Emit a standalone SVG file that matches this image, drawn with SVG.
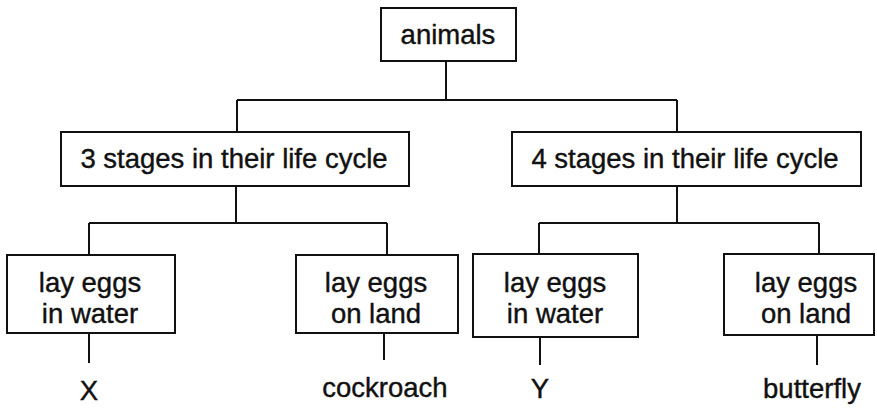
<svg xmlns="http://www.w3.org/2000/svg" width="877" height="409" viewBox="0 0 877 409">
<style>
.box{fill:#fff;stroke:#111;stroke-width:2}
.ln{fill:none;stroke:#111;stroke-width:2}
text{font-family:"Liberation Sans",Arial,sans-serif;font-size:27.5px;fill:#111;stroke:#111;stroke-width:0.4;text-anchor:middle}
</style>
<rect width="877" height="409" fill="#fff"/>
<g id="connectors" class="ln">
<path d="M446 61V100M237 100H677M237 100V132M677 100V132"/>
<path d="M236 186V223M89 223H387M89 223V255M387 223V255"/>
<path d="M677 186V223M539 223H819M539 223V254M819 223V254"/>
<path d="M89 333V363M384 333V360M540 337V365M817 335V365"/>
</g>
<g id="animals"><rect class="box" x="381" y="8" width="135" height="53"/><text x="448" y="44">animals</text></g>
<g id="stages3"><rect class="box" x="61" y="132" width="348" height="54"/><text x="234" y="168">3 stages in their life cycle</text></g>
<g id="stages4"><rect class="box" x="512" y="132" width="349" height="54"/><text x="685" y="168">4 stages in their life cycle</text></g>
<g id="water1"><rect class="box" x="7" y="255" width="168" height="78"/><text x="90" y="292">lay eggs</text><text x="90" y="323">in water</text></g>
<g id="land1"><rect class="box" x="296" y="255" width="162" height="78"/><text x="376" y="292">lay eggs</text><text x="376" y="323">on land</text></g>
<g id="water2"><rect class="box" x="473" y="254" width="165" height="83"/><text x="555" y="292">lay eggs</text><text x="555" y="323">in water</text></g>
<g id="land2"><rect class="box" x="724" y="254" width="150" height="81"/><text x="806" y="292">lay eggs</text><text x="806" y="323">on land</text></g>
<g id="X"><text x="89" y="400">X</text></g>
<g id="cockroach"><text x="385" y="397">cockroach</text></g>
<g id="Y"><text x="540" y="398">Y</text></g>
<g id="butterfly"><text x="812" y="398">butterfly</text></g>
</svg>
